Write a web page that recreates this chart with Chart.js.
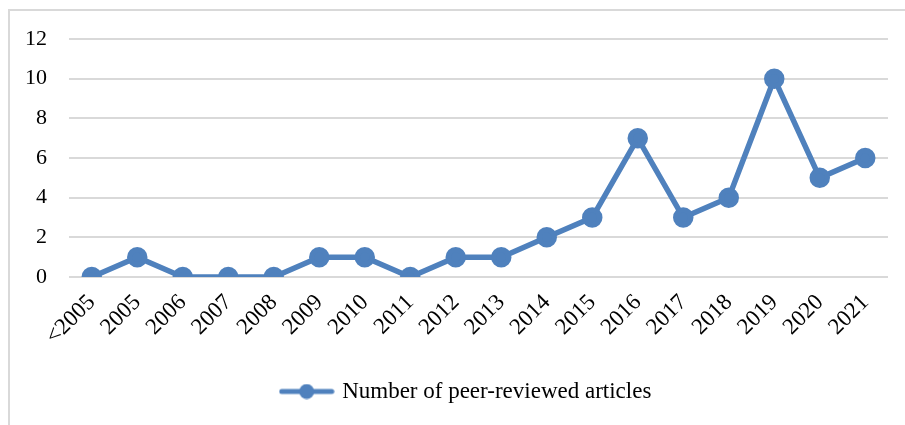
<!DOCTYPE html>
<html>
<head>
<meta charset="utf-8">
<script src="https://cdn.jsdelivr.net/npm/chart.js@4/dist/chart.umd.min.js"></script>
<style>
  html, body { margin: 0; padding: 0; background: #fff; overflow: hidden; }
  #frame {
    position: absolute; left: 8px; top: 9px; width: 1000px; height: 600px;
    border: 2px solid #d9d9d9; box-sizing: border-box;
  }
  #wrap { position: absolute; left: 0; top: 0; width: 905px; height: 425px; }
</style>
</head>
<body>
<div id="frame"></div>
<div id="wrap"><canvas id="chart" width="905" height="425"></canvas></div>
<script>
const years = ["<2005", "2005", "2006", "2007", "2008", "2009", "2010", "2011", "2012",
  "2013", "2014", "2015", "2016", "2017", "2018", "2019", "2020", "2021"];
const articles = [0, 1, 0, 0, 0, 1, 1, 0, 1, 1, 2, 3, 7, 3, 4, 10, 5, 6];
const seriesName = "Number of peer-reviewed articles";

const blue = "#4f81bd";
const serif = "'Liberation Serif', 'DejaVu Serif', serif";
const font = { family: serif, size: 22 };
const bigFont = { family: serif, size: 23 };

// legend marker: line with a dot in the middle
const marker = document.createElement("canvas");
marker.width = 56;
marker.height = 16;
const mctx = marker.getContext("2d");
mctx.strokeStyle = blue;
mctx.lineWidth = 5;
mctx.lineCap = "round";
mctx.beginPath();
mctx.moveTo(3, 8);
mctx.lineTo(53, 8);
mctx.stroke();
mctx.fillStyle = blue;
mctx.beginPath();
mctx.arc(28, 8, 7.5, 0, Math.PI * 2);
mctx.fill();

// the legend sits a little right of centre in the original
const legendShift = {
  id: "legendShift",
  afterLayout(chart) {
    chart.legend.left += 23;
    chart.legend.right += 23;
  }
};

new Chart(document.getElementById("chart"), {
  type: "line",
  data: {
    labels: years,
    datasets: [{
      label: seriesName,
      data: articles,
      borderColor: blue,
      backgroundColor: blue,
      borderWidth: 5.5,
      pointRadius: 7.5,
      pointHoverRadius: 7.5,
      pointStyle: "circle",
      tension: 0
    }]
  },
  plugins: [legendShift],
  options: {
    responsive: false,
    animation: false,
    layout: { padding: { top: 39, right: 17, left: 0, bottom: 12 } },
    plugins: {
      tooltip: { enabled: false },
      legend: {
        position: "bottom",
        labels: {
          color: "#000",
          font: bigFont,
          usePointStyle: true,
          pointStyleWidth: 48,
          padding: 10,
          generateLabels: chart => [{
            text: seriesName,
            pointStyle: marker,
            fillStyle: blue,
            strokeStyle: blue,
            lineWidth: 0,
            datasetIndex: 0
          }]
        }
      }
    },
    scales: {
      x: {
        offset: true,
        afterFit: s => { s.height = 93; },
        grid: { display: false, drawTicks: false },
        border: { display: false },
        ticks: { color: "#000", font: bigFont, minRotation: 45, maxRotation: 45, padding: 12, autoSkip: false }
      },
      y: {
        min: 0,
        max: 12,
        afterFit: s => { s.width = 69; },
        grid: { color: "#d9d9d9", lineWidth: 2, drawTicks: false },
        border: { display: false },
        ticks: { stepSize: 2, color: "#000", font: font, padding: 22 }
      }
    }
  }
});
</script>
</body>
</html>
